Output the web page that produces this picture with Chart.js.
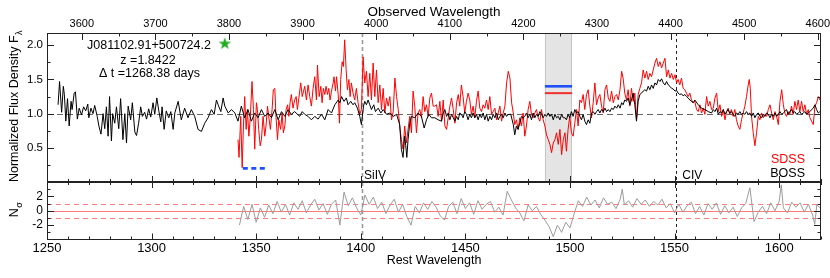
<!DOCTYPE html>
<html>
<head>
<meta charset="utf-8">
<script src="https://cdn.jsdelivr.net/npm/chart.js@4.4.1/dist/chart.umd.min.js"></script>
<style>
html, body { margin: 0; padding: 0; background: #fff; }
#wrap { position: relative; width: 830px; height: 278px; overflow: hidden; }
canvas { position: absolute; left: 0; }
#topChart { top: 0; }
#botChart { top: 181px; }
</style>
</head>
<body>
<div id="wrap">
  <canvas id="topChart" width="830" height="184"></canvas>
  <canvas id="botChart" width="830" height="97"></canvas>
</div>
<script>
// -------- Data --------
const REDSHIFT = 1.8422;
const restRange = [1250, 1620];
const restTicks = [1250, 1300, 1350, 1400, 1450, 1500, 1550, 1600];
const obsTicks = [3600, 3700, 3800, 3900, 4000, 4100, 4200, 4300, 4400, 4500, 4600];
const fluxTicks = [0.5, 1.0, 1.5, 2.0];
const sigmaTicks = [-2, 0, 2];

// BOSS spectrum [rest wavelength, normalized flux]
const bossSpectrum = [
  [1255.3,1.13],[1256.0,1.47],[1257.0,1.02],[1257.8,1.40],[1258.3,1.28],[1259.0,0.89],[1259.8,1.22],[1260.6,0.82],
  [1261.5,1.18],[1262.0,1.06],[1263.0,1.30],[1263.6,1.32],[1264.5,0.92],[1265.4,1.08],[1266.5,0.98],[1267.5,1.10],
  [1268.5,1.04],[1269.5,1.14],[1270.0,0.94],[1271.0,1.08],[1272.0,1.00],[1272.8,1.12],[1274.0,0.96],[1274.8,0.82],
  [1275.8,0.70],[1276.8,1.00],[1277.6,0.78],[1278.4,1.10],[1279.2,0.67],[1279.9,1.25],[1280.8,0.60],[1281.4,1.00],
  [1282.4,0.86],[1283.2,1.10],[1284.3,0.78],[1285.2,1.22],[1286.3,0.62],[1287.2,1.00],[1288.0,0.57],[1288.8,1.11],
  [1290.0,0.91],[1290.8,1.16],[1292.0,0.73],[1292.8,0.68],[1293.8,0.86],[1294.8,1.10],[1295.6,0.96],[1296.7,1.02],
  [1297.6,0.92],[1298.6,1.07],[1299.6,0.95],[1300.7,1.16],[1301.5,0.99],[1302.5,1.23],[1303.4,1.05],[1304.4,0.88],
  [1305.0,1.10],[1306.0,0.77],[1307.0,1.04],[1308.2,0.94],[1309.2,1.03],[1310.3,0.77],
  [1311.1,1.01],[1312.7,1.18],[1314.2,0.91],[1315.8,1.08],[1317.4,0.94],[1319.0,1.06],[1320.6,0.96],[1322.2,0.77],
  [1323.8,0.74],[1325.4,0.86],[1327.0,0.94],[1328.6,1.06],[1329.9,0.99],[1331.0,1.20],[1331.8,1.13],[1333.1,1.03],
  [1334.2,1.23],[1335.0,1.11],[1336.6,1.01],[1338.2,1.06],[1339.8,1.01],[1341.3,0.89],[1342.9,1.11],[1344.5,0.94],
  [1346.1,1.06],[1347.7,0.89],[1349.3,1.01],[1350.9,0.94],[1352.5,1.06],[1354.1,0.96],[1355.7,1.01],[1357.3,0.94],
  [1358.9,1.06],[1360.5,0.91],[1362.1,1.03],[1363.7,0.96],[1365.2,1.06],[1366.8,0.99],[1368.4,1.03],[1370.8,0.96],
  [1372.0,1.03],
  [1373.2,0.99],[1374.8,0.96],[1376.4,0.91],[1378.0,0.96],[1379.6,0.92],[1381.2,0.99],[1382.8,0.91],[1384.4,1.06],
  [1386.0,1.01],[1387.6,1.13],[1389.2,1.20],[1390.0,1.16],[1390.8,1.25],[1392.0,1.18],[1393.1,1.23],[1393.9,1.13],
  [1395.2,1.18],[1396.3,1.13],[1397.1,1.16],[1398.4,1.08],[1399.5,0.96],[1400.3,0.84],[1401.3,1.11],[1401.9,1.18],
  [1402.7,1.13],[1403.5,1.20],[1404.3,1.13],[1405.1,1.06],[1406.2,1.13],[1407.0,1.03],[1408.3,1.08],[1409.6,1.01],
  [1410.7,1.06],[1412.3,0.99],[1413.9,1.01],[1415.5,0.96],[1417.1,0.99],[1418.6,0.84],[1419.4,0.48],[1420.2,0.36],
  [1421.0,0.67],[1421.5,0.53],[1422.0,0.36],[1422.6,0.62],[1423.4,0.86],[1424.2,0.96],[1425.8,0.94],[1427.4,1.01],
  [1429.0,0.96],[1430.3,0.79],[1431.4,0.91],[1432.5,0.99],[1433.8,0.94],
  [1435.4,0.94],[1437.0,0.91],[1438.6,0.89],[1439.4,1.01],[1440.2,1.06],[1441.0,0.96],[1441.8,1.01],[1442.6,0.91],
  [1443.4,0.99],[1444.2,0.94],[1445.0,0.89],[1445.8,0.96],[1446.6,0.91],[1447.3,1.01],[1448.1,0.99],[1448.9,0.94],
  [1449.7,1.03],[1450.5,0.99],[1451.3,0.91],[1452.1,0.99],[1452.9,0.94],[1453.7,1.01],[1454.5,0.94],[1455.3,0.99],
  [1456.1,0.91],[1456.9,0.99],[1457.7,0.94],[1458.5,1.01],[1459.3,0.91],[1460.1,0.99],[1460.9,0.89],[1461.7,0.96],
  [1462.5,0.91],[1463.3,0.99],[1464.1,0.94],[1464.9,1.01],[1465.7,0.91],[1466.5,0.96],[1467.3,0.99],[1468.1,0.94],
  [1468.9,1.01],[1469.7,0.96],[1470.5,0.99],[1471.7,0.99],[1472.9,0.84],[1473.6,0.69],[1474.4,0.82],[1475.2,0.77],
  [1476.0,0.86],[1476.8,0.96],[1477.6,0.94],[1478.4,0.96],[1479.2,1.01],[1480.0,0.94],[1480.8,0.99],[1481.6,0.91],
  [1482.4,1.01],[1483.2,0.94],[1484.0,0.99],[1484.8,0.96],[1485.6,1.03],[1486.4,0.99],[1487.2,0.94],[1488.0,0.99],
  [1488.8,0.96],[1489.6,1.01],[1490.4,0.96],[1491.2,0.99],[1492.0,0.91],[1492.8,0.99],[1493.6,0.94],[1494.4,0.96],
  [1495.2,0.91],[1496.0,0.99],[1496.8,0.94],
  [1497.6,0.94],[1498.3,0.91],[1499.1,0.99],[1499.9,0.94],[1500.7,1.03],[1501.5,0.96],[1502.3,1.06],[1503.1,1.01],
  [1503.9,1.03],[1504.7,0.96],[1505.5,0.91],[1506.3,0.99],[1507.1,0.89],[1507.9,0.84],[1508.7,0.91],[1509.5,0.86],
  [1510.3,1.01],[1511.1,1.03],[1511.9,0.99],[1512.7,1.03],[1513.5,1.06],[1514.3,1.01],[1515.1,1.06],[1515.9,1.03],
  [1516.7,1.08],[1517.5,1.03],[1518.3,1.06],[1519.1,1.03],[1519.9,1.08],[1520.7,1.06],[1521.5,1.11],[1522.3,1.08],
  [1523.1,1.13],[1523.9,1.08],[1524.7,1.16],[1525.4,1.13],[1526.2,1.20],[1527.0,1.18],[1527.8,1.23],[1528.6,1.13],
  [1529.4,1.20],[1530.2,1.30],[1531.0,1.13],[1531.8,0.89],[1532.6,1.18],[1533.4,1.28],[1534.2,1.30],[1535.0,1.33],
  [1535.8,1.35],[1536.6,1.33],[1537.4,1.40],[1538.2,1.35],[1539.0,1.42],[1539.8,1.37],[1540.6,1.45],[1541.4,1.42],
  [1542.2,1.50],[1543.0,1.47],[1543.8,1.51],[1544.6,1.45],[1545.4,1.42],[1546.2,1.47],[1547.0,1.42],[1547.8,1.40],
  [1548.6,1.37],[1549.4,1.36],[1550.2,1.33],[1551.0,1.34],[1551.7,1.30],[1552.5,1.28],[1553.3,1.29],[1554.1,1.26],
  [1554.9,1.28],[1555.7,1.25],[1556.5,1.23],[1557.3,1.20],[1558.1,1.18],[1558.9,1.16],
  [1559.7,1.20],[1561.3,1.13],[1562.9,1.08],[1564.5,1.06],[1566.1,1.03],[1567.7,1.01],[1568.5,1.06],[1569.3,1.03],
  [1570.1,1.08],[1570.9,0.99],[1571.7,1.03],[1572.5,1.01],[1573.3,1.06],[1574.1,0.99],[1574.9,1.03],[1575.6,1.06],
  [1576.4,1.01],[1577.2,1.03],[1578.0,0.99],[1578.8,0.96],[1579.6,1.01],[1580.4,0.99],[1581.2,1.03],[1582.0,0.99],
  [1582.8,1.01],[1583.6,0.99],[1584.4,1.03],[1585.2,0.99],[1586.0,1.01],[1586.8,0.96],[1587.6,1.01],[1588.4,0.94],
  [1589.2,0.99],[1590.0,1.01],[1590.8,0.96],[1591.6,0.94],[1592.4,0.99],[1593.2,0.96],[1594.0,1.01],[1594.8,0.99],
  [1595.6,0.94],[1596.4,0.99],[1597.2,0.96],[1598.0,1.01],[1598.8,0.96],[1599.6,0.99],[1600.4,1.03],[1601.2,0.99],
  [1602.0,1.01],[1602.7,1.03],[1603.5,1.06],[1604.3,0.99],[1605.1,1.03],[1605.9,1.06],[1606.7,1.01],[1607.5,1.03],
  [1608.3,0.99],[1609.1,1.01],[1609.9,1.03],[1610.7,0.99],[1611.5,1.01],[1612.3,1.03],[1613.1,0.99],[1613.9,1.01],
  [1614.7,1.03],[1615.5,1.06],[1616.3,1.08],[1617.1,1.13],[1617.9,1.06],[1618.7,1.01],[1619.5,1.03]
];

// SDSS spectrum [rest wavelength, normalized flux]
const sdssSpectrum = [
  [1341.3,0.62],[1341.8,0.36],[1342.6,0.96],[1343.3,0.21],[1343.9,0.82],[1344.5,1.25],[1345.2,0.77],[1345.8,1.06],
  [1346.5,0.67],[1347.2,0.96],[1348.0,1.47],[1348.7,1.06],[1349.3,0.48],[1350.1,1.16],[1350.6,1.06],[1351.2,0.77],
  [1351.9,0.53],[1352.5,0.62],[1353.3,0.96],[1354.1,0.67],[1354.7,0.82],[1355.4,1.11],[1356.2,0.91],[1356.8,0.77],
  [1357.6,1.06],[1358.2,1.35],[1358.9,1.37],[1359.5,0.94],[1360.2,0.62],[1360.8,0.91],[1361.7,0.77],[1362.4,1.01],
  [1363.0,0.72],[1363.7,0.82],[1364.3,1.06],[1365.0,1.13],[1365.6,0.96],[1366.2,1.16],[1366.8,1.28],[1367.6,1.08],
  [1368.4,1.20],[1369.1,1.25],[1369.7,1.06],[1370.4,1.23],[1371.3,1.45],[1372.0,1.25],
  [1373.2,1.40],[1374.0,1.20],[1374.8,1.42],[1375.6,1.25],[1376.4,1.11],[1377.2,1.37],[1378.0,1.54],[1378.8,1.20],
  [1379.3,1.71],[1380.1,1.25],[1380.9,1.40],[1381.5,1.16],[1382.1,1.37],[1382.8,1.28],[1383.4,1.40],[1384.1,1.28],
  [1384.7,1.37],[1385.3,1.20],[1386.0,1.33],[1386.8,1.45],[1387.2,1.54],[1387.9,1.33],[1388.4,1.54],[1389.2,1.28],
  [1389.8,0.86],[1390.4,1.50],[1391.1,1.76],[1391.7,1.69],[1392.3,2.08],[1393.0,1.64],[1393.6,1.35],[1394.3,1.50],
  [1394.9,1.25],[1395.5,1.45],[1396.3,1.30],[1397.1,1.20],[1397.9,1.37],[1398.7,1.16],[1399.5,0.99],[1400.3,1.06],
  [1401.1,1.83],[1401.9,1.45],[1402.7,1.62],[1403.5,1.25],[1404.3,1.59],[1405.1,1.20],[1405.9,1.74],[1406.7,1.25],
  [1407.5,1.64],[1408.3,1.16],[1409.1,1.42],[1409.9,1.06],[1410.7,1.37],[1411.5,1.01],[1412.3,1.23],[1413.1,1.11],
  [1413.9,1.25],[1414.7,0.91],[1415.5,1.03],[1416.3,1.52],[1417.1,1.25],[1417.9,1.06],[1418.6,0.82],[1419.4,0.62],
  [1420.2,0.48],[1421.0,0.82],[1421.8,0.57],[1422.6,0.77],[1423.4,0.96],[1424.2,0.72],[1425.0,1.33],[1425.8,1.11],
  [1426.6,0.72],[1427.4,1.01],[1428.2,1.06],[1429.0,0.94],[1429.8,1.25],[1430.6,1.03],[1431.4,1.13],[1432.2,0.96],
  [1433.0,1.23],[1433.8,1.30],[1434.6,1.11],
  [1435.4,1.11],[1436.2,1.13],[1437.0,0.96],[1437.8,1.18],[1438.6,0.89],[1439.4,1.20],[1440.2,0.82],[1441.0,0.77],
  [1441.8,0.94],[1442.6,1.11],[1443.4,1.23],[1444.2,1.06],[1445.0,0.86],[1445.8,1.16],[1446.6,1.28],[1447.3,1.11],
  [1448.1,1.42],[1448.9,1.25],[1449.7,1.01],[1450.5,1.18],[1451.3,1.30],[1452.1,1.20],[1452.9,0.99],[1453.7,1.11],
  [1454.5,0.94],[1455.3,1.18],[1456.1,1.33],[1456.9,1.08],[1457.7,1.03],[1458.5,1.13],[1459.3,1.08],[1460.1,1.20],
  [1460.9,1.06],[1461.7,1.25],[1462.5,0.99],[1463.3,1.03],[1464.1,1.08],[1464.9,0.91],[1465.7,1.01],[1466.5,1.11],
  [1467.3,0.89],[1468.1,1.01],[1468.9,1.11],[1469.7,1.45],[1470.5,1.62],[1471.3,1.52],[1472.1,1.16],[1472.9,1.01],
  [1473.6,0.84],[1474.4,0.91],[1475.2,0.77],[1476.0,0.94],[1476.8,0.82],[1477.6,1.01],[1478.4,0.67],[1479.2,0.82],
  [1480.0,1.06],[1480.8,1.18],[1481.6,0.99],[1482.4,0.94],[1483.2,1.01],[1484.0,1.06],[1484.8,0.94],[1485.6,0.89],
  [1486.4,1.06],[1487.2,0.91],[1488.0,0.82],[1488.8,0.69],[1489.6,0.62],[1490.4,0.55],[1491.2,0.43],[1492.0,0.57],
  [1492.8,0.62],[1493.6,0.72],[1494.4,0.55],[1495.2,0.77],[1496.0,0.40],[1496.8,0.62],
  [1497.6,0.72],[1498.3,0.45],[1499.1,0.77],[1499.9,0.96],[1500.7,0.72],[1501.5,0.67],[1502.3,0.86],[1503.1,1.06],
  [1503.9,0.82],[1504.7,1.20],[1505.5,1.16],[1506.3,1.28],[1507.1,1.06],[1507.9,1.28],[1508.7,1.35],[1509.5,1.11],
  [1510.3,0.94],[1511.1,1.16],[1511.9,1.45],[1512.7,1.13],[1513.5,1.23],[1514.3,1.28],[1515.1,1.11],[1515.9,1.01],
  [1516.7,1.35],[1517.5,1.42],[1518.3,1.23],[1519.1,1.18],[1519.9,1.33],[1520.7,1.16],[1521.5,1.25],[1522.3,1.28],
  [1523.1,1.20],[1523.9,1.35],[1524.7,1.62],[1525.4,1.52],[1526.2,1.30],[1527.0,1.20],[1527.8,1.35],[1528.6,1.11],
  [1529.4,1.37],[1530.2,1.18],[1531.0,1.30],[1531.8,0.91],[1532.6,1.28],[1533.4,1.37],[1534.2,1.45],[1535.0,1.64],
  [1535.8,1.52],[1536.6,1.62],[1537.4,1.50],[1538.2,1.59],[1539.0,1.54],[1539.8,1.64],[1540.6,1.74],[1541.4,1.81],
  [1542.2,1.69],[1543.0,1.76],[1543.8,1.67],[1544.6,1.74],[1545.4,1.81],[1546.2,1.54],[1547.0,1.64],[1547.8,1.52],
  [1548.6,1.59],[1549.4,1.50],[1550.2,1.57],[1551.0,1.45],[1551.7,1.50],[1552.5,1.42],[1553.3,1.52],[1554.1,1.37],
  [1554.9,1.35],[1555.7,1.30],[1556.5,1.25],[1557.3,1.30],[1558.1,1.20],[1558.9,1.16],
  [1559.7,1.18],[1560.5,1.06],[1561.3,1.03],[1562.1,1.13],[1562.9,1.01],[1563.7,1.08],[1564.5,0.99],[1565.3,1.25],
  [1566.1,1.11],[1566.9,1.18],[1567.7,1.06],[1568.5,1.08],[1569.3,1.23],[1570.1,1.30],[1570.9,1.03],[1571.7,1.13],
  [1572.5,0.96],[1573.3,1.06],[1574.1,0.91],[1574.9,1.03],[1575.6,1.08],[1576.4,0.99],[1577.2,1.06],[1578.0,0.96],
  [1578.8,1.06],[1579.6,0.91],[1580.4,0.82],[1581.2,0.77],[1582.0,0.91],[1582.8,1.01],[1583.6,1.11],[1584.4,1.25],
  [1585.2,1.42],[1585.7,1.50],[1586.2,1.37],[1586.8,0.96],[1587.6,0.72],[1588.4,0.53],[1589.2,0.72],[1590.0,0.96],
  [1590.8,0.91],[1591.6,1.01],[1592.4,0.94],[1593.2,0.99],[1594.0,0.96],[1594.8,1.06],[1595.6,1.13],[1596.4,1.01],
  [1597.2,0.91],[1598.0,1.03],[1598.8,0.96],[1599.6,0.84],[1600.4,1.18],[1601.2,1.35],[1602.0,1.13],[1602.7,1.01],
  [1603.5,0.96],[1604.3,1.03],[1605.1,0.99],[1605.9,1.11],[1606.7,0.99],[1607.5,1.18],[1608.3,1.06],[1609.1,1.20],
  [1609.9,1.03],[1610.7,1.18],[1611.5,1.03],[1612.3,1.13],[1613.1,0.99],[1613.9,1.06],[1614.7,0.94],[1615.5,0.89],
  [1616.3,0.84],[1617.1,1.11],[1617.9,1.16],[1618.7,1.25],[1619.5,1.20]
];

// N_sigma residual [rest wavelength, sigma]
const residual = [
  [1342,-2.0],[1344,0.6],[1346,-1.2],[1348,0.9],[1350,-1.6],[1352,0.4],[1354,-0.9],[1356,0.8],[1358,-0.4],[1360,1.3],
  [1362,-0.2],[1364,0.9],[1366,-0.6],[1368,1.1],[1370,0.2],[1372,1.4],[1374,-0.3],[1376,0.8],[1378,1.6],[1380,0.1],
  [1382,1.0],[1384,-0.5],[1386,0.9],[1388,1.5],[1390,-2.0],[1392,2.6],[1394,0.7],[1396,1.8],[1398,0.4],[1400,-0.6],
  [1402,2.2],[1404,0.9],[1406,1.9],[1408,0.3],[1410,1.2],[1412,-0.4],[1414,0.8],[1416,1.6],[1418,-0.2],[1420,0.9],
  [1422,-0.8],[1424,-2.0],[1426,0.6],[1428,-0.3],[1430,1.1],[1432,0.2],[1434,1.3],[1436,0.5],[1438,-0.7],[1440,-1.3],
  [1442,0.6],[1444,1.2],[1446,-0.4],[1448,1.7],[1450,0.3],[1452,1.1],[1454,-0.5],[1456,1.4],[1458,0.2],[1460,0.9],
  [1462,1.3],[1464,-0.2],[1466,0.5],[1468,-0.6],[1470,2.7],[1472,1.5],[1474,0.4],[1476,-0.3],[1478,-1.4],[1480,0.8],
  [1482,0.0],[1484,0.6],[1486,-0.5],[1488,-1.3],[1490,-2.2],[1492,-3.6],[1494,-2.0],[1496,-3.0],[1498,-1.6],[1500,-2.4],
  [1502,-0.4],[1504,1.4],[1506,0.6],[1508,1.9],[1510,0.8],[1512,1.5],[1514,0.4],[1516,1.8],[1518,0.9],[1520,1.2],
  [1522,0.3],[1524,1.6],[1525,3.0],[1526,0.8],[1528,1.4],[1530,0.5],[1532,1.7],[1534,0.9],[1536,1.5],[1538,0.6],
  [1540,1.3],[1542,0.8],[1544,1.6],[1546,0.4],[1548,1.0],[1550,-0.3],[1552,0.9],[1554,-0.2],[1556,0.7],[1558,1.2],
  [1560,-0.4],[1562,0.6],[1564,-0.6],[1566,1.0],[1568,0.2],[1570,1.1],[1572,-0.5],[1574,0.7],[1576,-0.3],[1578,0.5],
  [1580,-0.8],[1582,0.4],[1584,1.0],[1586,3.2],[1588,-1.5],[1590,-0.2],[1592,0.6],[1594,-0.4],[1596,1.1],[1598,0.0],
  [1600,1.3],[1601,3.6],[1602,0.4],[1604,-0.3],[1606,1.2],[1608,0.5],[1610,1.1],[1612,-0.2],[1614,0.9],[1616,-0.6],
  [1617,-1.9],[1618,0.8],[1620,0.3]
];

// annotations
const bandRest = [1488.0, 1501.0];
const bandLevels = [1.40, 1.30];          // BOSS (blue), SDSS (red)
const lowMarkRest = [1343.6, 1354.4];
const lowMarkLevel = 0.20;
const starPoint = [[1335.0, 2.03]];
const lineRest = [1400.6, 1550.8];
const lineNames = ['SiIV', 'CIV'];
const objectInfo = ['J081102.91+500724.2', 'z =1.8422', '\u0394 t =1268.38 days'];

// -------- Helpers --------
const FONT = '"Liberation Sans", Arial, Helvetica, sans-serif';
Chart.defaults.font.family = FONT;
Chart.defaults.color = '#000';

const toXY = arr => arr.map(p => ({ x: p[0], y: p[1] }));

// fixed axis box sizes, no label overflow padding
function fixSize(w, h) {
  return s => {
    if (w !== null) s.width = w;
    if (h !== null) s.height = h;
    s.paddingTop = 0; s.paddingBottom = 0; s.paddingLeft = 0; s.paddingRight = 0;
  };
}

function starImage() {
  const c = document.createElement('canvas');
  c.width = 16; c.height = 16;
  const s = c.getContext('2d');
  s.fillStyle = '#22aa22';
  s.beginPath();
  for (let i = 0; i < 10; i++) {
    const r = i % 2 ? 2.6 : 6.6;
    const a = -Math.PI / 2 + i * Math.PI / 5;
    s.lineTo(8 + r * Math.cos(a), 8.5 + r * Math.sin(a));
  }
  s.closePath();
  s.fill();
  return c;
}

function tickMarks(ctx, scale, values, majorEvery, edge, dir, majLen, minLen) {
  values.forEach(v => {
    const p = Math.round(scale.getPixelForValue(v)) + 0.5;
    const r = v / majorEvery;
    const len = Math.abs(r - Math.round(r)) < 1e-6 ? majLen : minLen;
    ctx.beginPath();
    if (scale.isHorizontal()) { ctx.moveTo(p, edge); ctx.lineTo(p, edge + dir * len); }
    else { ctx.moveTo(edge, p); ctx.lineTo(edge + dir * len, p); }
    ctx.stroke();
  });
}

function steps(from, to, step) {
  const out = [];
  for (let v = from; v <= to + 1e-9; v += step) out.push(Math.round(v * 1000) / 1000);
  return out;
}

function vertLabel(ctx, main, sub, cx, cy, size) {
  ctx.save();
  ctx.translate(cx, cy);
  ctx.rotate(-Math.PI / 2);
  ctx.font = size + 'px ' + FONT;
  const w1 = ctx.measureText(main).width;
  ctx.font = (size * 0.72) + 'px ' + FONT;
  const w2 = ctx.measureText(sub).width;
  const x0 = -(w1 + w2) / 2;
  ctx.fillStyle = '#000';
  ctx.textBaseline = 'alphabetic';
  ctx.textAlign = 'left';
  ctx.font = size + 'px ' + FONT;
  ctx.fillText(main, x0, 0);
  ctx.font = (size * 0.72) + 'px ' + FONT;
  ctx.fillText(sub, x0 + w1 + 0.5, 4);
  ctx.restore();
}

function dashedV(ctx, x, top, bottom, color, width, dash) {
  ctx.save();
  ctx.strokeStyle = color; ctx.lineWidth = width; ctx.setLineDash(dash);
  ctx.beginPath(); ctx.moveTo(x, top); ctx.lineTo(x, bottom); ctx.stroke();
  ctx.restore();
}

function frame(ctx, a) {
  ctx.save();
  ctx.strokeStyle = '#222'; ctx.lineWidth = 1; ctx.setLineDash([]);
  ctx.strokeRect(Math.round(a.left) + 0.5, Math.round(a.top) + 0.5,
                 Math.round(a.right - a.left) - 1, Math.round(a.bottom - a.top) - 1);
  ctx.restore();
}

const restMinor = steps(1250, 1620, 10);

// -------- Top panel: spectra --------
const topChart = new Chart(document.getElementById('topChart'), {
  type: 'line',
  data: {
    datasets: [
      { label: 'BOSS', data: toXY(bossSpectrum), borderColor: '#000', borderWidth: 1, pointRadius: 0, order: 2 },
      { label: 'SDSS', data: toXY(sdssSpectrum), borderColor: '#ff0000', borderWidth: 1, pointRadius: 0, order: 3 },
      { label: 'boss band', data: toXY([[bandRest[0], bandLevels[0]], [bandRest[1], bandLevels[0]]]),
        borderColor: '#1f4fff', borderWidth: 2.6, pointRadius: 0, order: 1 },
      { label: 'sdss band', data: toXY([[bandRest[0], bandLevels[1]], [bandRest[1], bandLevels[1]]]),
        borderColor: '#f03030', borderWidth: 2, pointRadius: 0, order: 1 },
      { label: 'low mark', data: toXY([[lowMarkRest[0], lowMarkLevel], [lowMarkRest[1], lowMarkLevel]]),
        borderColor: '#1f4fff', borderWidth: 2.6, borderDash: [5, 3.5], pointRadius: 0, order: 1 },
      { label: 'star', data: toXY(starPoint), showLine: false, pointStyle: starImage(), pointRadius: 7, order: 0 }
    ]
  },
  options: {
    responsive: false,
    animation: false,
    events: [],
    layout: { autoPadding: false, padding: { left: 0, right: 9, top: 0, bottom: 2 } },
    plugins: { legend: { display: false }, tooltip: { enabled: false } },
    elements: { line: { tension: 0 } },
    scales: {
      x: { type: 'linear', min: restRange[0], max: restRange[1], display: false, afterFit: fixSize(null, 0) },
      xObs: {
        type: 'linear', position: 'top',
        min: restRange[0] * (1 + REDSHIFT), max: restRange[1] * (1 + REDSHIFT),
        afterBuildTicks: s => { s.ticks = obsTicks.map(v => ({ value: v })); },
        afterFit: fixSize(null, 33),
        grid: { display: false, drawTicks: false }, border: { display: false },
        ticks: { font: { size: 11 }, padding: 2, maxRotation: 0, autoSkip: false, callback: v => String(v) },
        title: { display: true, text: 'Observed Wavelength', font: { size: 13.5 }, padding: { top: 4, bottom: 0 } }
      },
      y: {
        type: 'linear', min: 0, max: 2.18,
        afterBuildTicks: s => { s.ticks = fluxTicks.map(v => ({ value: v })); },
        afterFit: fixSize(47, null),
        grid: { display: false, drawTicks: false }, border: { display: false },
        ticks: { font: { size: 11.5 }, padding: 4, callback: v => v.toFixed(1) }
      }
    }
  },
  plugins: [{
    id: 'topDecor',
    beforeDatasetsDraw(chart) {
      const { ctx, chartArea: a, scales: { x, y } } = chart;
      ctx.save();
      const b0 = x.getPixelForValue(bandRest[0]), b1 = x.getPixelForValue(bandRest[1]);
      ctx.fillStyle = '#e4e4e4';
      ctx.fillRect(b0, a.top, b1 - b0, a.bottom - a.top);
      ctx.strokeStyle = '#c6c6c6'; ctx.lineWidth = 1;
      ctx.beginPath();
      ctx.moveTo(Math.round(b0) + 0.5, a.top); ctx.lineTo(Math.round(b0) + 0.5, a.bottom);
      ctx.moveTo(Math.round(b1) - 0.5, a.top); ctx.lineTo(Math.round(b1) - 0.5, a.bottom);
      ctx.stroke();
      const y1 = Math.round(y.getPixelForValue(1)) + 0.5;
      ctx.strokeStyle = '#666'; ctx.setLineDash([6, 4]);
      ctx.beginPath(); ctx.moveTo(a.left, y1); ctx.lineTo(a.right, y1); ctx.stroke();
      ctx.restore();
      dashedV(ctx, Math.round(x.getPixelForValue(lineRest[0])) + 0.5, a.top, a.bottom, '#9a9a9a', 1.6, [4, 3]);
      dashedV(ctx, Math.round(x.getPixelForValue(lineRest[1])) + 0.5, a.top, a.bottom, '#222', 1, [3, 3]);
    },
    afterDraw(chart) {
      const { ctx, chartArea: a, scales: { x, y, xObs } } = chart;
      frame(ctx, a);
      ctx.save();
      ctx.strokeStyle = '#222'; ctx.lineWidth = 1;
      tickMarks(ctx, xObs, steps(3600, 4600, 50), 100, a.top, 1, 7, 3.5);
      tickMarks(ctx, x, restMinor, 50, a.bottom, -1, 6, 3);
      const fl = steps(0.25, 2.0, 0.25);
      tickMarks(ctx, y, fl, 0.5, a.left, 1, 7, 3.5);
      tickMarks(ctx, y, fl, 0.5, a.right, -1, 7, 3.5);
      ctx.restore();

      ctx.save();
      ctx.fillStyle = '#000';
      ctx.textAlign = 'center';
      ctx.font = '12.5px ' + FONT;
      ctx.fillText(objectInfo[0], 149, 49);
      ctx.fillText(objectInfo[1], 148, 63.5);
      ctx.fillText(objectInfo[2], 149.5, 76.5);
      ctx.textAlign = 'right';
      ctx.fillStyle = '#ff0000';
      ctx.fillText('SDSS', 805, 163);
      ctx.fillStyle = '#000';
      ctx.fillText('BOSS', 805, 177);
      ctx.textAlign = 'left';
      ctx.font = '12px ' + FONT;
      ctx.fillText(lineNames[0], x.getPixelForValue(lineRest[0]) + 2, 179);
      ctx.fillText(lineNames[1], x.getPixelForValue(lineRest[1]) + 6, 179);
      ctx.restore();
      vertLabel(ctx, 'Normalized Flux Density F', '\u03bb', 17.5, 106.5, 12.5);
    }
  }]
});

// -------- Bottom panel: residual --------
const botChart = new Chart(document.getElementById('botChart'), {
  type: 'line',
  data: {
    datasets: [
      { label: 'N sigma', data: toXY(residual), borderColor: '#9b9b9b', borderWidth: 1, pointRadius: 0 }
    ]
  },
  options: {
    responsive: false,
    animation: false,
    events: [],
    layout: { autoPadding: false, padding: { left: 0, right: 9, top: 1, bottom: 0 } },
    plugins: { legend: { display: false }, tooltip: { enabled: false } },
    elements: { line: { tension: 0 } },
    scales: {
      x: {
        type: 'linear', min: restRange[0], max: restRange[1],
        afterBuildTicks: s => { s.ticks = restTicks.map(v => ({ value: v })); },
        afterFit: fixSize(null, 38.5),
        grid: { display: false, drawTicks: false }, border: { display: false },
        ticks: { font: { size: 13 }, padding: 1, maxRotation: 0, autoSkip: false, callback: v => String(v) },
        title: { display: true, text: 'Rest Wavelength', font: { size: 12.5 }, padding: { top: 0, bottom: 10 } }
      },
      y: {
        type: 'linear', min: -4, max: 4,
        afterBuildTicks: s => { s.ticks = sigmaTicks.map(v => ({ value: v })); },
        afterFit: fixSize(47, null),
        grid: { display: false, drawTicks: false }, border: { display: false },
        ticks: { font: { size: 12 }, padding: 4, callback: v => String(v) }
      }
    }
  },
  plugins: [{
    id: 'botDecor',
    beforeDatasetsDraw(chart) {
      const { ctx, chartArea: a, scales: { x, y } } = chart;
      ctx.save();
      ctx.strokeStyle = '#ff7a7a'; ctx.lineWidth = 1;
      [-1, 0, 1].forEach(v => {
        const py = Math.round(y.getPixelForValue(v)) + 0.5;
        ctx.setLineDash(v === 0 ? [] : [5, 4]);
        ctx.beginPath(); ctx.moveTo(a.left, py); ctx.lineTo(a.right, py); ctx.stroke();
      });
      ctx.restore();
      dashedV(ctx, Math.round(x.getPixelForValue(lineRest[0])) + 0.5, a.top, a.bottom, '#9a9a9a', 1.6, [4, 3]);
      dashedV(ctx, Math.round(x.getPixelForValue(lineRest[1])) + 0.5, a.top, a.bottom, '#222', 1, [3, 3]);
    },
    afterDraw(chart) {
      const { ctx, chartArea: a, scales: { x, y } } = chart;
      frame(ctx, a);
      ctx.save();
      ctx.strokeStyle = '#222'; ctx.lineWidth = 1;
      tickMarks(ctx, x, restMinor, 50, a.top, 1, 6, 3);
      tickMarks(ctx, x, restMinor, 50, a.bottom, -1, 6, 3);
      const sl = steps(-3, 3, 1);
      tickMarks(ctx, y, sl, 2, a.left, 1, 7, 3.5);
      tickMarks(ctx, y, sl, 2, a.right, -1, 7, 3.5);
      ctx.restore();
      vertLabel(ctx, 'N', '\u03c3', 17.5, 29, 12.5);
    }
  }]
});
</script>
</body>
</html>
